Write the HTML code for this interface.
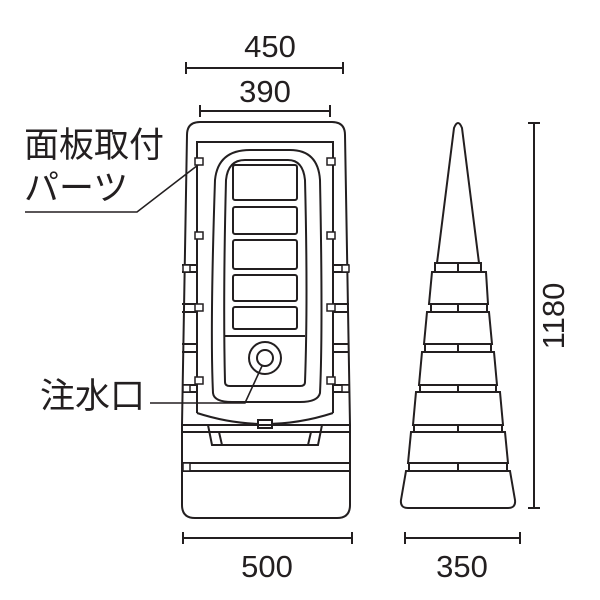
<!DOCTYPE html>
<html><head><meta charset="utf-8"><style>
html,body{margin:0;padding:0;background:#fff;}
svg{display:block;}
text{font-family:"Liberation Sans","Noto Sans CJK JP",sans-serif;fill:#231f20;}
</style></head><body>
<svg width="600" height="600" viewBox="0 0 600 600" xmlns="http://www.w3.org/2000/svg">
<g fill="none" stroke="#231f20" stroke-width="2">
<path d="M186 68H343M186 62V74M343 62V74"/>
<path d="M200 111H330M200 105V117M330 105V117"/>
<path d="M183 538H352M183 532V544M352 532V544"/>
<path d="M405 538H520M405 532V544M520 532V544"/>
<path d="M534 123V508M528 123H540M528 508H540"/>
<path d="M25 212H137L198 165" stroke-width="1.6"/>
<path d="M150 403H245L262 366" stroke-width="1.6"/>
<path d="M182 425 L187 135 Q187 122 200 122 H332 Q345 122 345 135 L350 425"/>
<path d="M182 265H197M182 272H197M182 304H197M182 312H197M182 344H197M182 352H197M182 385H197M182 392H197"/>
<path d="M333 265H349M333 272H349M333 304H349M333 312H349M333 344H349M333 352H349M333 385H349M333 392H349"/>
<path d="M197 413 V142 H333 V413"/>
<path d="M197 413 Q265 435 333 413"/>
<path d="M213 393 Q210 330 215 180 Q218 150 250 150 H290 Q318 150 320 180 Q323 330 320 393 Q318 402 300 402 H232 Q214 402 213 393Z"/>
<path d="M225 382 Q223 300 226 180 Q228 160 245 160 H288 Q303 160 305 180 Q308 300 305 382 Q305 386 300 386 H230 Q225 386 225 382Z"/>
<rect x="233" y="165" width="64" height="35" rx="2"/>
<rect x="233" y="207" width="64" height="27" rx="2"/>
<rect x="233" y="240" width="64" height="29" rx="2"/>
<rect x="233" y="275" width="64" height="26" rx="2"/>
<rect x="233" y="307" width="64" height="22" rx="2"/>
<path d="M225 336H305"/>
<circle cx="265" cy="358" r="16"/>
<circle cx="265" cy="358" r="8"/>
<rect x="258" y="420" width="14" height="8" fill="#fff"/>
<path d="M182 425H350M182 432H350"/>
<path d="M208 425L212 445H222L219 432M322 425L318 445H308L311 432M212 445H318"/>
<path d="M182 425V463M350 425V463M182 463H350M182 471H350"/>
<path d="M182 463V505 Q182 518 195 518 H337 Q350 518 350 505 V463"/>
<g stroke-width="1.5">
<rect x="195" y="158" width="8" height="7" fill="#fff"/><rect x="327" y="158" width="8" height="7" fill="#fff"/>
<rect x="195" y="232" width="8" height="7" fill="#fff"/><rect x="327" y="232" width="8" height="7" fill="#fff"/>
<rect x="195" y="304" width="8" height="7" fill="#fff"/><rect x="327" y="304" width="8" height="7" fill="#fff"/>
<rect x="195" y="377" width="8" height="7" fill="#fff"/><rect x="327" y="377" width="8" height="7" fill="#fff"/>
<rect x="183" y="265" width="7" height="7" fill="#fff"/><rect x="342" y="265" width="7" height="7" fill="#fff"/>
<rect x="183" y="385" width="7" height="7" fill="#fff"/><rect x="342" y="385" width="7" height="7" fill="#fff"/>
<rect x="183" y="463" width="7" height="8" fill="#fff"/>
</g>
<!-- side cone -->
<path d="M437 263 L454 128 Q458 118 462 128 L479 263Z"/>
<path d="M435 263H481V272H435Z M458 263V272"/>
<path d="M432 272H486L488 304H429Z"/>
<path d="M431 304H487V312H431Z M458 304V312"/>
<path d="M427 312H489L492 344H424Z"/>
<path d="M425 344H491V352H425Z M458 344V352"/>
<path d="M422 352H494L497 385H419Z"/>
<path d="M420 385H496V392H420Z M458 385V392"/>
<path d="M416 392H500L503 425H413Z"/>
<path d="M414 425H502V432H414Z M458 425V432"/>
<path d="M411 432H505L508 463H408Z"/>
<path d="M409 463H507V471H409Z M458 463V471"/>
<path d="M406 471H510L515 500 Q516 508 508 508 H408 Q400 508 401 500Z"/>
</g>
<text x="270" y="57" font-size="31" text-anchor="middle">450</text>
<text x="265" y="102" font-size="31" text-anchor="middle">390</text>
<text x="267" y="577" font-size="31" text-anchor="middle">500</text>
<text x="462" y="577" font-size="31" text-anchor="middle">350</text>
<text transform="translate(564 316) rotate(-90)" font-size="31" text-anchor="middle">1180</text>
<text x="24" y="157" font-size="35">面板取付</text>
<text x="24" y="200" font-size="35">パーツ</text>
<text x="40" y="408" font-size="35">注水口</text>
</svg>
</body></html>
